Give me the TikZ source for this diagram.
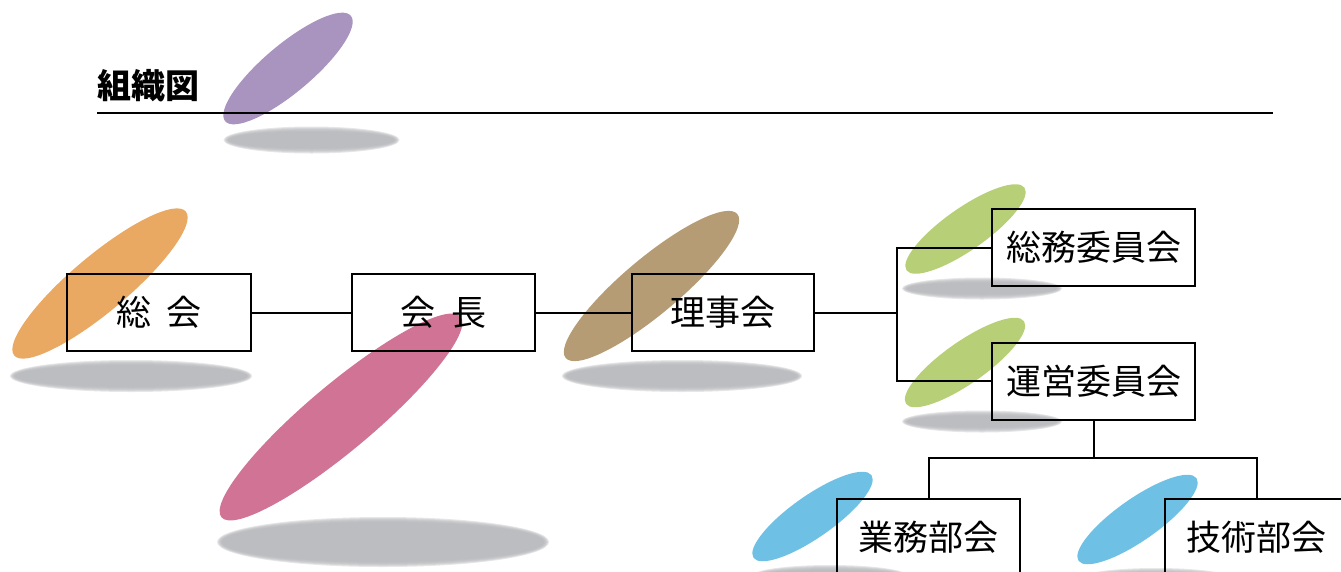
\documentclass[tikz,border=0pt]{standalone}
\usepackage{fontspec}
\newfontfamily\jpfont{Noto Sans CJK JP}
\usetikzlibrary{positioning,calc}
\definecolor{lilac}{RGB}{169,148,192}
\definecolor{apricot}{RGB}{233,169,99}
\definecolor{rose}{RGB}{208,115,149}
\definecolor{khaki}{RGB}{181,156,116}
\definecolor{leaf}{RGB}{183,208,119}
\definecolor{sky}{RGB}{110,193,228}
\definecolor{shadowgray}{RGB}{181,182,186}
\tikzstyle{orgbox} = [draw=black, line width=2pt, minimum width=183pt, minimum height=77pt, inner sep=0pt, font=\jpfont\fontsize{35}{35}\selectfont]
\tikzstyle{link} = [black, line width=2pt]

\begin{document}
\begin{tikzpicture}[x=1pt,y=-1pt]
\useasboundingbox (0,0) rectangle (1341,571);

% soft shadows
\foreach \cx/\cy/\rx/\ry in {311.5/140/83/8.5, 131/376/116/11, 383/542/161/20, 682/376/115/11, 982/288.5/75/6, 982/421.5/75/6, 830/576/73/6, 1156/579/73/6}
  \foreach \k in {5,4,...,0}
    \fill[shadowgray, fill opacity=0.33] (\cx,\cy) ellipse [x radius=\rx+\k, y radius=\ry+\k];

% coloured ellipses
\foreach \cx/\cy/\a/\b/\ang/\col in {288/68.5/82/24/40/lilac, 100/283.5/112/28/40/apricot, 341/417/156/33/40/rose, 651.5/286/112/28/40/khaki, 965.5/229/72/21/35/leaf, 965/362.5/72/21/35/leaf, 812.5/516.5/72/21/35/sky, 1137.5/519.5/72/21/35/sky}
  \fill[\col, rotate around={\ang:(\cx,\cy)}] (\cx,\cy) ellipse [x radius=\a, y radius=\b];

% title
\node[font=\jpfont\bfseries\fontsize{34}{34}\selectfont, anchor=west, inner sep=0pt] (title) at (97,86) {組織図};
\draw[line width=1.5pt] (97,113) -- (1273,113);

% boxes
\node[orgbox, minimum width=184pt] (sokai) at (159,312.5) {総\hspace{.45em}会};
\node[orgbox] (kaicho) at (443.5,312.5) {会\hspace{.45em}長};
\node[orgbox, minimum width=182pt] (rijikai) at (723,312.5) {理事会};
\node[orgbox, minimum width=203pt] (somu) at (1093.5,247.5) {総務委員会};
\node[orgbox, minimum width=203pt] (unei) at (1093.5,381) {運営委員会};
\node[orgbox] (gyomu) at (928.5,537) {業務部会};
\node[orgbox] (gijutsu) at (1256.5,537.5) {技術部会};

% links
\coordinate (fork1) at (897,312.5);
\coordinate (fork2) at (1093.5,458);
\draw[link] (sokai) -- (kaicho);
\draw[link] (kaicho) -- (rijikai);
\draw[link] (rijikai) -- (fork1);
\draw[link] (somu.west) -| (fork1) |- (unei.west);
\draw[link] (unei) -- (fork2);
\draw[link] (gyomu.north) |- (fork2) -| (gijutsu.north);
\end{tikzpicture}
\end{document}
